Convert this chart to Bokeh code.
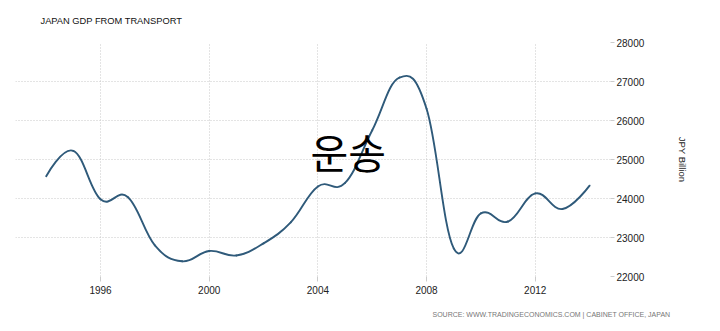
import numpy as np
from bokeh.plotting import figure
from bokeh.models import Range1d, LinearAxis, FixedTicker, Label, ColumnDataSource, Title
from bokeh.embed import file_html
from bokeh.resources import INLINE

years = [1994, 1995, 1996, 1997, 1998, 1999, 2000, 2001, 2002, 2003, 2004,
         2005, 2006, 2007, 2008, 2009, 2010, 2011, 2012, 2013, 2014]
gdp_transport = [24570, 25220, 23980, 24040, 22800, 22390, 22655, 22540, 22850, 23390, 24310,
                 24400, 25750, 27100, 26300, 22720, 23620, 23410, 24130, 23730, 24330]
x_ticks = [1996, 2000, 2004, 2008, 2012]
y_ticks = [22000, 23000, 24000, 25000, 26000, 27000, 28000]

title_text = "JAPAN GDP FROM TRANSPORT"
source_text = "SOURCE: WWW.TRADINGECONOMICS.COM | CABINET OFFICE, JAPAN"
unit_text = "JPY Billion"
overlay_text = "운송"

W, H = 720, 331
p = figure(width=W, height=H, output_backend="svg", toolbar_location=None,
           x_range=Range1d(1992.87, 2014.77), y_range=Range1d(22000, 28000),
           min_border_left=15, min_border_right=110, min_border_top=42, min_border_bottom=55,
           x_axis_location="below", y_axis_location=None)
p.outline_line_color = None
p.background_fill_color = "white"
p.border_fill_color = "white"

# axes
p.xaxis.ticker = FixedTicker(ticks=x_ticks)
p.xaxis.axis_line_color = None
p.xaxis.major_tick_out = 5
p.xaxis.major_tick_in = 0
p.xaxis.major_tick_line_color = "#cccccc"
p.xaxis.minor_tick_line_color = None
p.xaxis.major_label_standoff = 4
p.xaxis.major_label_text_font = "Liberation Sans"
p.xaxis.major_label_text_font_size = "10px"
p.xaxis.major_label_text_color = "#222222"

yax = LinearAxis(ticker=FixedTicker(ticks=y_ticks))
yax.axis_line_color = None
yax.major_tick_out = 4
yax.major_tick_in = 0
yax.major_tick_line_color = "#cccccc"
yax.minor_tick_line_color = None
yax.major_label_standoff = 2
yax.major_label_text_font = "Liberation Sans"
yax.major_label_text_font_size = "10px"
yax.major_label_text_color = "#222222"
yax.axis_label = unit_text
yax.axis_label_text_font = "Liberation Sans"
yax.axis_label_text_font_size = "9.5px"
yax.axis_label_text_font_style = "normal"
yax.axis_label_text_color = "#222222"
yax.axis_label_standoff = 30
p.add_layout(yax, "right")

p.xgrid.ticker = FixedTicker(ticks=x_ticks)
p.xgrid.grid_line_color = "#c8c8c8"
p.xgrid.grid_line_dash = "1 2"
p.ygrid.grid_line_color = "#c8c8c8"
p.ygrid.grid_line_dash = "1 2"
p.ygrid[0].ticker = FixedTicker(ticks=y_ticks)

# Highcharts-style spline (smoothing 1.5) through the data points
xs = np.array(years, dtype=float)
ys = np.array(gdp_transport, dtype=float)
n = len(xs)
sm, den = 1.5, 2.5
lcx = xs.copy(); lcy = ys.copy(); rcx = xs.copy(); rcy = ys.copy()
for i in range(1, n - 1):
    lx = (sm * xs[i] + xs[i - 1]) / den
    ly = (sm * ys[i] + ys[i - 1]) / den
    rx = (sm * xs[i] + xs[i + 1]) / den
    ry = (sm * ys[i] + ys[i + 1]) / den
    if rx != lx:
        corr = ((ry - ly) * (rx - xs[i])) / (rx - lx) + ys[i] - ry
        ly += corr
        ry += corr
    lcx[i], lcy[i], rcx[i], rcy[i] = lx, ly, rx, ry

src = ColumnDataSource(dict(x0=xs[:-1], y0=ys[:-1], x1=xs[1:], y1=ys[1:],
                            cx0=rcx[:-1], cy0=rcy[:-1], cx1=lcx[1:], cy1=lcy[1:]))
p.bezier(x0="x0", y0="y0", x1="x1", y1="y1", cx0="cx0", cy0="cy0", cx1="cx1", cy1="cy1",
         source=src, line_color="#2f5a7a", line_width=1.9, line_cap="round")

# overlay text
p.add_layout(Label(x=2005.12, y=25230, text=overlay_text, text_font="Noto Sans CJK KR",
                   text_font_size="41px", text_color="#000000", text_align="center",
                   text_baseline="middle"))

# title and source
p.add_layout(Title(text=title_text, align="left", offset=25, standoff=30,
                   vertical_align="top",
                   text_font="Liberation Sans", text_font_size="9.3px",
                   text_font_style="normal", text_color="#111111"), "above")
p.add_layout(Title(text=source_text, align="left", offset=417, standoff=25,
                   text_font="Liberation Sans", text_font_size="7px",
                   text_font_style="normal", text_color="#777777"), "below")

open("out.html", "w").write(file_html(p, INLINE))
